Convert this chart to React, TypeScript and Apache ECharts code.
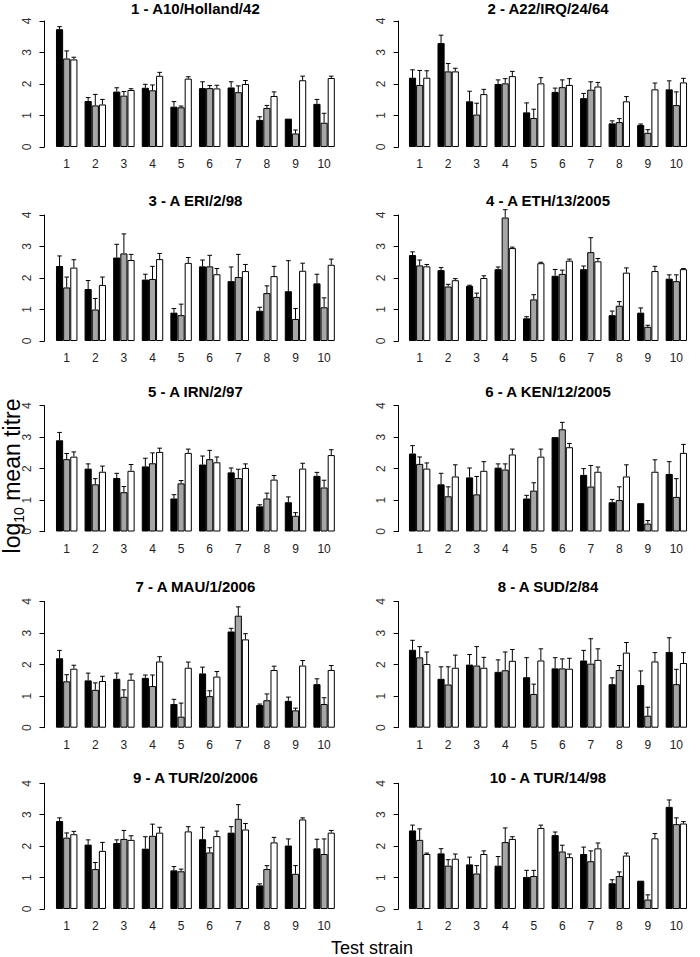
import React, { useEffect, useRef } from 'react';
import * as echarts from 'echarts';

const panelTitles = [
  '1 - A10/Holland/42',
  '2 - A22/IRQ/24/64',
  '3 - A ERI/2/98',
  '4 - A ETH/13/2005',
  '5 - A IRN/2/97',
  '6 - A KEN/12/2005',
  '7 - A MAU/1/2006',
  '8 - A SUD/2/84',
  '9 - A TUR/20/2006',
  '10 - A TUR/14/98',
];
const testStrains = ['1', '2', '3', '4', '5', '6', '7', '8', '9', '10'];
const yTicks = [0, 1, 2, 3, 4];

const blackMean = [
  [3.74, 1.46, 1.76, 1.88, 1.28, 1.87, 1.89, 0.86, 0.9, 1.37],
  [2.2, 3.3, 1.45, 2.0, 1.1, 1.75, 1.55, 0.75, 0.7, 1.83],
  [2.38, 1.65, 2.65, 1.95, 0.9, 2.37, 1.9, 0.96, 1.58, 1.83],
  [2.73, 2.25, 1.75, 2.28, 0.72, 2.07, 2.28, 0.82, 0.9, 1.98],
  [2.9, 2.0, 1.7, 2.07, 1.05, 2.13, 1.88, 0.8, 0.93, 1.77],
  [2.48, 1.5, 1.72, 2.03, 1.05, 3.0, 1.8, 0.93, 0.9, 1.83],
  [2.2, 1.5, 1.55, 1.58, 0.75, 1.72, 3.05, 0.72, 0.85, 1.38],
  [2.47, 1.55, 2.0, 1.77, 1.6, 1.88, 2.13, 1.38, 1.35, 2.4],
  [2.8, 2.05, 2.1, 1.92, 1.23, 2.22, 2.43, 0.75, 2.02, 1.93],
  [2.5, 1.77, 1.42, 1.38, 1.02, 2.35, 1.75, 0.82, 0.9, 3.25],
];
const blackUpper = [
  [3.82, 1.57, 1.88, 1.99, 1.44, 2.07, 2.07, 0.96, 0.9, 1.51],
  [2.45, 3.55, 1.77, 2.13, 1.4, 1.87, 1.7, 0.83, 0.73, 2.1],
  [2.7, 1.92, 3.07, 2.12, 1.03, 2.57, 2.35, 1.07, 2.55, 2.12],
  [2.83, 2.33, 1.77, 2.35, 0.77, 2.27, 2.38, 0.95, 1.05, 2.1],
  [3.15, 2.15, 1.85, 2.33, 1.17, 2.4, 2.02, 0.85, 1.1, 1.88],
  [2.73, 1.85, 2.02, 2.15, 1.15, 3.0, 2.0, 1.02, 0.9, 2.22],
  [2.45, 1.73, 1.73, 1.67, 0.9, 1.92, 3.15, 0.75, 0.97, 1.55],
  [2.77, 1.93, 2.32, 2.15, 2.22, 2.22, 2.45, 1.58, 1.8, 2.85],
  [2.9, 2.2, 2.2, 2.3, 1.35, 2.6, 2.62, 0.8, 2.23, 2.22],
  [2.67, 1.92, 1.65, 1.67, 1.23, 2.45, 1.97, 0.93, 0.9, 3.47],
];
const greyMean = [
  [2.81, 1.32, 1.63, 1.8, 1.26, 1.87, 1.74, 1.24, 0.43, 0.77],
  [1.97, 2.4, 1.03, 2.02, 0.92, 1.9, 1.82, 0.79, 0.45, 1.33],
  [1.7, 1.0, 2.78, 1.97, 0.82, 2.37, 2.03, 1.52, 0.7, 1.07],
  [2.4, 1.73, 1.4, 3.92, 1.32, 2.13, 2.82, 1.12, 0.45, 1.9],
  [2.3, 1.5, 1.25, 2.17, 1.53, 2.3, 1.7, 1.05, 0.5, 1.4],
  [2.15, 1.12, 1.18, 1.97, 1.3, 3.25, 1.43, 1.0, 0.25, 1.1],
  [1.47, 1.2, 0.98, 1.32, 0.35, 1.0, 3.55, 0.87, 0.55, 0.75],
  [2.23, 1.37, 1.97, 1.82, 1.07, 1.88, 2.03, 1.83, 0.38, 1.38],
  [2.27, 1.27, 2.23, 2.33, 1.2, 1.8, 2.87, 1.27, 1.12, 1.75],
  [2.2, 1.38, 1.13, 2.13, 1.05, 1.83, 1.52, 1.05, 0.3, 2.7],
];
const greyUpper = [
  [3.05, 1.67, 1.76, 1.97, 1.3, 1.95, 1.94, 1.32, 0.54, 1.07],
  [2.43, 2.65, 1.39, 2.17, 1.2, 2.13, 2.07, 0.9, 0.55, 1.75],
  [2.03, 1.35, 3.4, 2.37, 1.17, 2.72, 2.75, 1.75, 1.03, 1.37],
  [2.57, 1.8, 1.52, 4.17, 1.47, 2.25, 3.28, 1.25, 0.5, 2.1],
  [2.48, 1.68, 1.43, 2.5, 1.62, 2.58, 1.98, 1.22, 0.6, 1.63],
  [2.37, 1.42, 1.75, 2.15, 1.55, 3.47, 2.1, 1.42, 0.35, 1.68],
  [1.68, 1.42, 1.2, 1.67, 0.78, 1.17, 3.83, 1.07, 0.62, 0.95],
  [2.57, 1.93, 2.57, 2.4, 1.38, 2.18, 2.82, 1.97, 0.65, 1.85],
  [2.42, 1.48, 2.5, 2.7, 1.27, 1.95, 3.32, 1.38, 1.38, 2.23],
  [2.55, 1.57, 1.38, 2.58, 1.23, 2.03, 1.85, 1.18, 0.45, 2.9],
];
const whiteMean = [
  [2.78, 1.35, 1.81, 2.26, 2.17, 1.86, 2.0, 1.62, 2.12, 2.19],
  [2.2, 2.4, 1.68, 2.25, 2.02, 1.97, 1.92, 1.45, 1.83, 2.05],
  [2.33, 1.78, 2.57, 2.6, 2.48, 2.12, 2.22, 2.06, 2.23, 2.42],
  [2.37, 1.93, 2.0, 2.95, 2.47, 2.55, 2.53, 2.17, 2.22, 2.28],
  [2.38, 1.9, 1.93, 2.53, 2.5, 2.2, 2.02, 1.65, 2.0, 2.43],
  [2.0, 1.75, 1.93, 2.45, 2.38, 2.68, 1.9, 1.75, 1.9, 2.5],
  [1.87, 1.48, 1.52, 2.1, 1.9, 1.62, 2.8, 1.83, 1.97, 1.83],
  [2.02, 1.9, 1.9, 2.12, 2.13, 1.87, 2.15, 2.38, 2.1, 2.05],
  [2.38, 1.85, 2.2, 2.43, 2.47, 2.32, 2.53, 2.12, 2.85, 2.43],
  [1.75, 1.6, 1.75, 2.23, 2.58, 1.65, 1.93, 1.7, 2.25, 2.72],
];
const whiteUpper = [
  [2.85, 1.51, 1.85, 2.37, 2.23, 1.96, 2.11, 1.75, 2.25, 2.25],
  [2.42, 2.5, 1.83, 2.4, 2.2, 2.17, 2.05, 1.6, 2.03, 2.18],
  [2.58, 2.03, 2.75, 2.78, 2.65, 2.3, 2.43, 2.37, 2.47, 2.6],
  [2.43, 1.98, 2.07, 2.98, 2.5, 2.6, 2.62, 2.32, 2.37, 2.3],
  [2.53, 2.08, 2.13, 2.65, 2.62, 2.37, 2.15, 1.78, 2.17, 2.6],
  [2.18, 2.12, 2.22, 2.62, 2.62, 2.8, 2.05, 2.12, 2.28, 2.77],
  [1.98, 1.63, 1.7, 2.25, 2.08, 1.78, 2.98, 1.95, 2.13, 1.97],
  [2.4, 2.3, 2.23, 2.48, 2.5, 2.2, 2.5, 2.7, 2.38, 2.38],
  [2.47, 2.12, 2.33, 2.6, 2.62, 2.48, 2.72, 2.28, 2.9, 2.5],
  [1.78, 1.75, 1.85, 2.3, 2.67, 1.75, 2.1, 1.78, 2.4, 2.78],
];

// layout (pixels)
const W = 700;
const H = 957;
const rowTop = [21, 215, 405.7, 601.5, 783.3];
const rowZero = [147, 341, 531.5, 727.7, 909];
const titleY = [8, 200, 391, 586.7, 777.7];
const colLeft = [52.4, 405.4];
const colWidth = [286, 285.2];
const axisOffset = [7.9, 6.8];
const FONT = '"Liberation Sans", Arial, Helvetica, sans-serif';
const barColors = ['#000000', '#a6a6a6', '#ffffff'];

export default function App() {
  const ref = useRef<HTMLDivElement>(null);
  useEffect(() => {
    document.body.style.margin = '0';
    const chart = echarts.init(ref.current!, null, { renderer: 'svg' });
    const grids: any[] = [];
    const xAxes: any[] = [];
    const yAxes: any[] = [];
    const series: any[] = [];
    const graphics: any[] = [];
    const groups = [blackMean, greyMean, whiteMean];
    const uppers = [blackUpper, greyUpper, whiteUpper];

    for (let p = 0; p < 10; p++) {
      const row = Math.floor(p / 2);
      const col = p % 2;
      grids.push({
        left: colLeft[col],
        width: colWidth[col],
        top: rowTop[row],
        height: rowZero[row] - rowTop[row],
        containLabel: false,
      });
      xAxes.push({
        gridIndex: p,
        type: 'category',
        data: testStrains,
        boundaryGap: true,
        axisLine: { show: false },
        axisTick: { show: false },
        axisLabel: { interval: 0, fontSize: 12, color: '#222', margin: 11, fontFamily: FONT },
        splitLine: { show: false },
      });
      yAxes.push({
        gridIndex: p,
        type: 'value',
        min: yTicks[0],
        max: yTicks[yTicks.length - 1],
        interval: 1,
        offset: axisOffset[col],
        axisLine: { show: true, lineStyle: { color: '#000', width: 1 } },
        axisTick: { show: true, length: 5, lineStyle: { color: '#000', width: 1 } },
        axisLabel: { rotate: 90, margin: 12, fontSize: 12, color: '#333', fontFamily: FONT },
        splitLine: { show: false },
      });
      for (let s = 0; s < 3; s++) {
        series.push({
          type: 'bar',
          name: ['black', 'grey', 'white'][s],
          xAxisIndex: p,
          yAxisIndex: p,
          data: groups[s][p],
          barGap: '0%',
          barCategoryGap: '25%',
          silent: true,
          itemStyle: { color: barColors[s], borderColor: '#000', borderWidth: 1 },
        });
      }
      const errData: number[][] = [];
      for (let c = 0; c < 10; c++) {
        for (let s = 0; s < 3; s++) {
          errData.push([c, s, groups[s][p][c], uppers[s][p][c]]);
        }
      }
      series.push({
        type: 'custom',
        xAxisIndex: p,
        yAxisIndex: p,
        clip: false,
        silent: true,
        data: errData,
        encode: { x: 0, y: 3 },
        renderItem: (params: any, api: any) => {
          const c = api.value(0);
          const s = api.value(1);
          const v = api.value(2);
          const e = api.value(3);
          if (e <= v) return { type: 'group', children: [] };
          const band = api.size([1, 0])[0];
          const bw = (band * 0.75) / 3;
          const cx = api.coord([c, 0])[0] + (s - 1) * bw;
          const y0 = api.coord([c, v])[1];
          const y1 = api.coord([c, e])[1];
          const cap = 2.3;
          return {
            type: 'group',
            children: [
              { type: 'line', shape: { x1: cx, y1: y0, x2: cx, y2: y1 }, style: { stroke: '#000', lineWidth: 1 } },
              { type: 'line', shape: { x1: cx - cap, y1: y1, x2: cx + cap, y2: y1 }, style: { stroke: '#000', lineWidth: 1 } },
            ],
          };
        },
      });
      graphics.push({
        type: 'text',
        x: colLeft[col] + colWidth[col] / 2,
        y: titleY[row],
        silent: true,
        style: {
          text: panelTitles[p],
          fill: '#000',
          fontSize: 15,
          fontWeight: 'bold',
          fontFamily: FONT,
          textAlign: 'center',
          align: 'center',
          textVerticalAlign: 'middle',
          verticalAlign: 'middle',
        },
      });
    }

    graphics.push({
      type: 'text',
      x: 11.5,
      y: 476,
      rotation: Math.PI / 2,
      silent: true,
      style: {
        text: 'log{sub|10} mean titre',
        fill: '#000',
        fontSize: 23,
        fontFamily: FONT,
        lineHeight: 28,
        textAlign: 'center',
        align: 'center',
        textVerticalAlign: 'middle',
        verticalAlign: 'middle',
        rich: {
          sub: { fontSize: 14, fontFamily: FONT, fill: '#000', verticalAlign: 'bottom', lineHeight: 14 },
        },
      },
    });
    graphics.push({
      type: 'text',
      x: 372,
      y: 948,
      silent: true,
      style: {
        text: 'Test strain',
        fill: '#000',
        fontSize: 18,
        fontFamily: FONT,
        textAlign: 'center',
        align: 'center',
        textVerticalAlign: 'middle',
        verticalAlign: 'middle',
      },
    });

    chart.setOption({
      animation: false,
      backgroundColor: '#fff',
      grid: grids,
      xAxis: xAxes,
      yAxis: yAxes,
      series,
      graphic: { elements: graphics },
    });
    return () => chart.dispose();
  }, []);
  return <div ref={ref} style={{ width: W, height: H }} />;
}
